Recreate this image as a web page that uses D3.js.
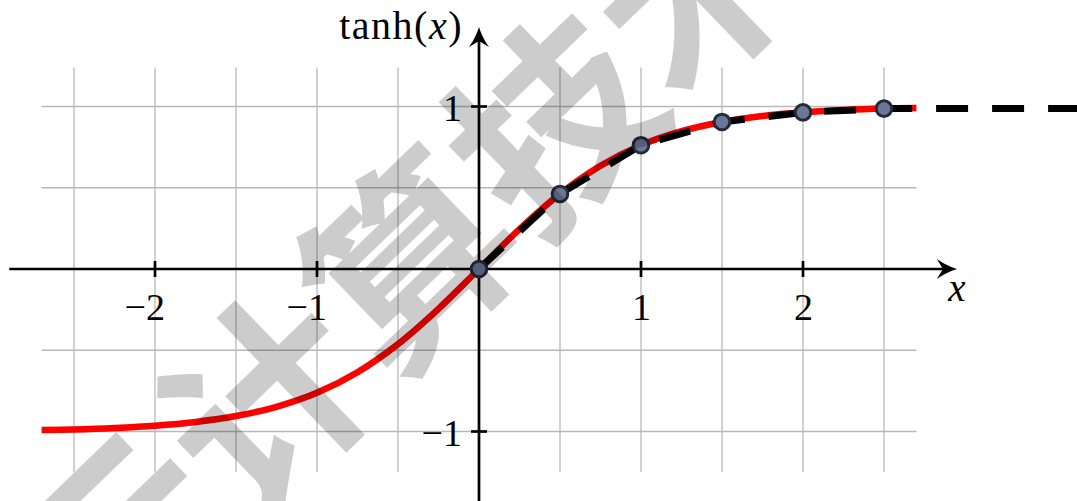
<!DOCTYPE html>
<html>
<head>
<meta charset="utf-8">
<script src="https://cdn.jsdelivr.net/npm/d3@7/dist/d3.min.js"></script>
<style>
  html, body { margin: 0; padding: 0; background: #fff; }
  svg { display: block; }
  .lbl { font-family: "Liberation Serif", "Times New Roman", serif; fill: #000; }
</style>
</head>
<body>
<svg id="chart" width="1077" height="501"></svg>
<script>
// Smooth curve of tanh(x), read at regular steps
const curveX = [-2.7, -2.5, -2.25, -2, -1.75, -1.5, -1.25, -1, -0.75, -0.5, -0.25, 0,
                0.25, 0.5, 0.75, 1, 1.25, 1.5, 1.75, 2, 2.25, 2.5, 2.7];
const curveY = [-0.991, -0.987, -0.978, -0.964, -0.941, -0.905, -0.848, -0.762, -0.635, -0.462, -0.245, 0,
                0.245, 0.462, 0.635, 0.762, 0.848, 0.905, 0.941, 0.964, 0.978, 0.987, 0.991];

// Sampled points joined by the dashed polyline
const sampleX = [0, 0.5, 1, 1.5, 2, 2.5];
const sampleY = [0, 0.462, 0.762, 0.905, 0.964, 0.987];
// The last sampled value is held constant out to this x
const tailX = 3.8;

// Ticks and grid
const xTickValues = [-2, -1, 1, 2];
const xTickLabels = ["\u22122", "\u22121", "1", "2"];
const yTickValues = [-1, 1];
const yTickLabels = ["\u22121", "1"];
const gridXValues = [-2.5, -2, -1.5, -1, -0.5, 0.5, 1, 1.5, 2, 2.5];
const gridYValues = [-1, -0.5, 0.5, 1];
const gridXExtent = [-2.7, 2.7];
const gridYExtent = [-1.25, 1.24];
const axisXExtent = [-2.9, 2.95];
const axisYExtent = [-1.6, 1.49];

const xLabel = "x";
const yLabelMain = "tanh(";
const yLabelVar = "x";
const yLabelEnd = ")";

const watermarkChars = ["云", "计", "算", "技", "术"];

const svg = d3.select("#chart");

const x = d3.scaleLinear().domain([0, 1]).range([479, 641]);
const y = d3.scaleLinear().domain([0, 1]).range([269, 106.5]);

// grid
const grid = svg.append("g").attr("stroke", "#b8b8b8").attr("stroke-width", 1.3);
grid.selectAll("line.gx").data(gridXValues).join("line")
  .attr("x1", d => x(d)).attr("x2", d => x(d))
  .attr("y1", y(gridYExtent[1])).attr("y2", y(gridYExtent[0]));
grid.selectAll("line.gy").data(gridYValues).join("line")
  .attr("y1", d => y(d)).attr("y2", d => y(d))
  .attr("x1", x(gridXExtent[0])).attr("x2", x(gridXExtent[1]));

// axes
const axes = svg.append("g").attr("stroke", "#000").attr("stroke-width", 2.7);
axes.append("line")
  .attr("x1", x(axisXExtent[0])).attr("x2", x(axisXExtent[1]) - 8)
  .attr("y1", y(0)).attr("y2", y(0));
axes.append("line")
  .attr("x1", x(0)).attr("x2", x(0))
  .attr("y1", y(axisYExtent[0])).attr("y2", y(axisYExtent[1]) + 8);

// arrow heads
const headPath = "M0,0 C-5,-1.5 -13,-5 -20,-10 L-14,0 L-20,10 C-13,5 -5,1.5 0,0 Z";
svg.append("path").attr("d", headPath).attr("fill", "#000")
  .attr("transform", `translate(${x(axisXExtent[1])},${y(0)})`);
svg.append("path").attr("d", headPath).attr("fill", "#000")
  .attr("transform", `translate(${x(0)},${y(axisYExtent[1])}) rotate(-90)`);

// tick marks
axes.selectAll("line.tx").data(xTickValues).join("line")
  .attr("x1", d => x(d)).attr("x2", d => x(d))
  .attr("y1", y(0) - 8).attr("y2", y(0) + 8);
axes.selectAll("line.ty").data(yTickValues).join("line")
  .attr("y1", d => y(d)).attr("y2", d => y(d))
  .attr("x1", x(0) - 8).attr("x2", x(0) + 8);

// tick labels: the digit sits centred under its tick, minus sign hangs left
svg.selectAll("text.xt").data(xTickValues).join("text")
  .attr("class", "lbl")
  .attr("x", d => x(d) + 10)
  .attr("y", y(0) + 51)
  .attr("text-anchor", "end")
  .attr("font-size", 38)
  .text((d, i) => xTickLabels[i]);
svg.selectAll("text.yt").data(yTickValues).join("text")
  .attr("class", "lbl")
  .attr("x", x(0) - 17)
  .attr("y", d => y(d) + 14)
  .attr("text-anchor", "end")
  .attr("font-size", 38)
  .text((d, i) => yTickLabels[i]);

// axis titles
svg.append("text").attr("class", "lbl")
  .attr("x", x(2.95)).attr("y", y(0) + 32)
  .attr("text-anchor", "middle")
  .attr("font-size", 39).attr("font-style", "italic")
  .text(xLabel);
const yt = svg.append("text").attr("class", "lbl")
  .attr("x", x(0) - 16).attr("y", 39)
  .attr("text-anchor", "end")
  .attr("font-size", 40)
  .attr("letter-spacing", 1.5);
yt.append("tspan").text(yLabelMain);
yt.append("tspan").attr("font-style", "italic").text(yLabelVar);
yt.append("tspan").text(yLabelEnd);

// red tanh curve
const curvePts = curveX.map((d, i) => [d, curveY[i]]);
svg.append("path")
  .datum(curvePts)
  .attr("fill", "none")
  .attr("stroke", "#ff0000")
  .attr("stroke-width", 6.5)
  .attr("d", d3.line().x(d => x(d[0])).y(d => y(d[1])).curve(d3.curveCatmullRom.alpha(0.5)));

// dashed polyline through the samples, extended flat on the right
const samplePts = sampleX.map((d, i) => [d, sampleY[i]]);
const dashedPts = samplePts.concat([[tailX, sampleY[sampleY.length - 1]]]);
svg.append("path")
  .datum(dashedPts)
  .attr("fill", "none")
  .attr("stroke", "#000")
  .attr("stroke-width", 7)
  .attr("stroke-dasharray", "32,24")
  .attr("d", d3.line().x(d => x(d[0])).y(d => y(d[1])));

// sample markers
svg.selectAll("circle.pt").data(samplePts).join("circle")
  .attr("cx", d => x(d[0])).attr("cy", d => y(d[1]))
  .attr("r", 7.8)
  .attr("fill", "#6c7696")
  .attr("stroke", "#262b3a")
  .attr("stroke-width", 3);

// watermark, laid along a diagonal
const wmAngle = -44 * Math.PI / 180;
const wmStep = 200;
const wmStart = [258 - wmStep * Math.cos(wmAngle), 392 - wmStep * Math.sin(wmAngle)];
svg.append("g")
  .selectAll("text").data(watermarkChars).join("text")
  .attr("font-family", "'Noto Sans CJK SC', sans-serif")
  .attr("font-weight", 700)
  .attr("font-size", 200)
  .attr("fill", "rgba(0,0,0,0.2)")
  .attr("text-anchor", "middle")
  .attr("dominant-baseline", "central")
  .attr("transform", (d, i) => {
    const cx = wmStart[0] + i * wmStep * Math.cos(wmAngle);
    const cy = wmStart[1] + i * wmStep * Math.sin(wmAngle);
    return `translate(${cx},${cy}) rotate(-44)`;
  })
  .text(d => d);
</script>
</body>
</html>
